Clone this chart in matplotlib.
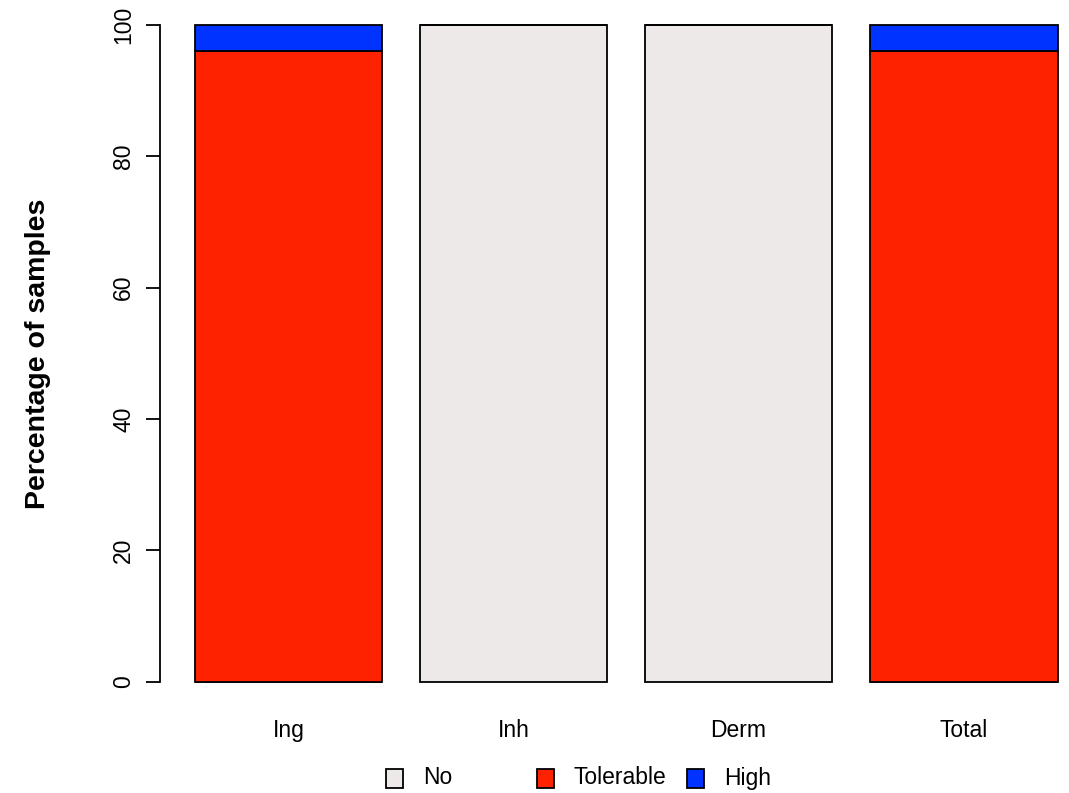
import matplotlib

matplotlib.use("Agg")
import matplotlib.pyplot as plt
from matplotlib.patches import Rectangle

plt.rcParams["font.family"] = ["Liberation Sans", "DejaVu Sans"]

# data (percentage of samples)
categories = ["Ing", "Inh", "Derm", "Total"]
no_risk = [0, 100, 100, 0]
tolerable = [96, 0, 0, 96]
high = [4, 0, 0, 4]

series = [("No", no_risk, "#EEE9E9"), ("Tolerable", tolerable, "#FF2200"), ("High", high, "#0033FF")]

# R barplot layout: width 1, space 0.2
positions = [0.7 + 1.2 * i for i in range(len(categories))]

fig = plt.figure(figsize=(10.69, 7.93), dpi=100)
ax = fig.add_axes([0.1497, 0.1072, 0.8508, 0.8944])

bottoms = [0.0] * len(categories)
for name, values, color in series:
    ax.bar(positions, values, width=1.0, bottom=bottoms, color=color,
           edgecolor="black", linewidth=1.3, label=name)
    bottoms = [b + v for b, v in zip(bottoms, values)]

ax.set_xlim(0.016, 4.864)
ax.set_ylim(-4, 104)
ax.set_yticks([0, 20, 40, 60, 80, 100])
ax.set_xticks(positions)
ax.set_xticklabels(categories, fontsize=16.5)
for label in ax.get_yticklabels():
    label.set_rotation(90)
    label.set_verticalalignment("center")
ax.tick_params(axis="y", length=10, width=1.3, pad=8, labelsize=16.5)
ax.tick_params(axis="x", length=0, pad=8)
for side in ("top", "right", "bottom"):
    ax.spines[side].set_visible(False)
ax.spines["left"].set_bounds(0, 100)
ax.spines["left"].set_linewidth(1.3)
ax.set_ylabel("Percentage of samples", fontsize=20.5, fontweight="bold", labelpad=44)

# horizontal legend with equal column spacing, like R's legend(horiz=TRUE)
W, H = 1069, 793
box_x = [386, 537, 687]
for (name, _, color), x0 in zip(series, box_x):
    fig.patches.append(Rectangle((x0 / W, (H - 788) / H), 17 / W, 19 / H,
                                 transform=fig.transFigure, facecolor=color,
                                 edgecolor="black", linewidth=1.3))
    fig.text((x0 + 37) / W, (H - 778) / H, name, fontsize=16.5, va="center", ha="left")

fig.savefig("out.png", dpi=100)
